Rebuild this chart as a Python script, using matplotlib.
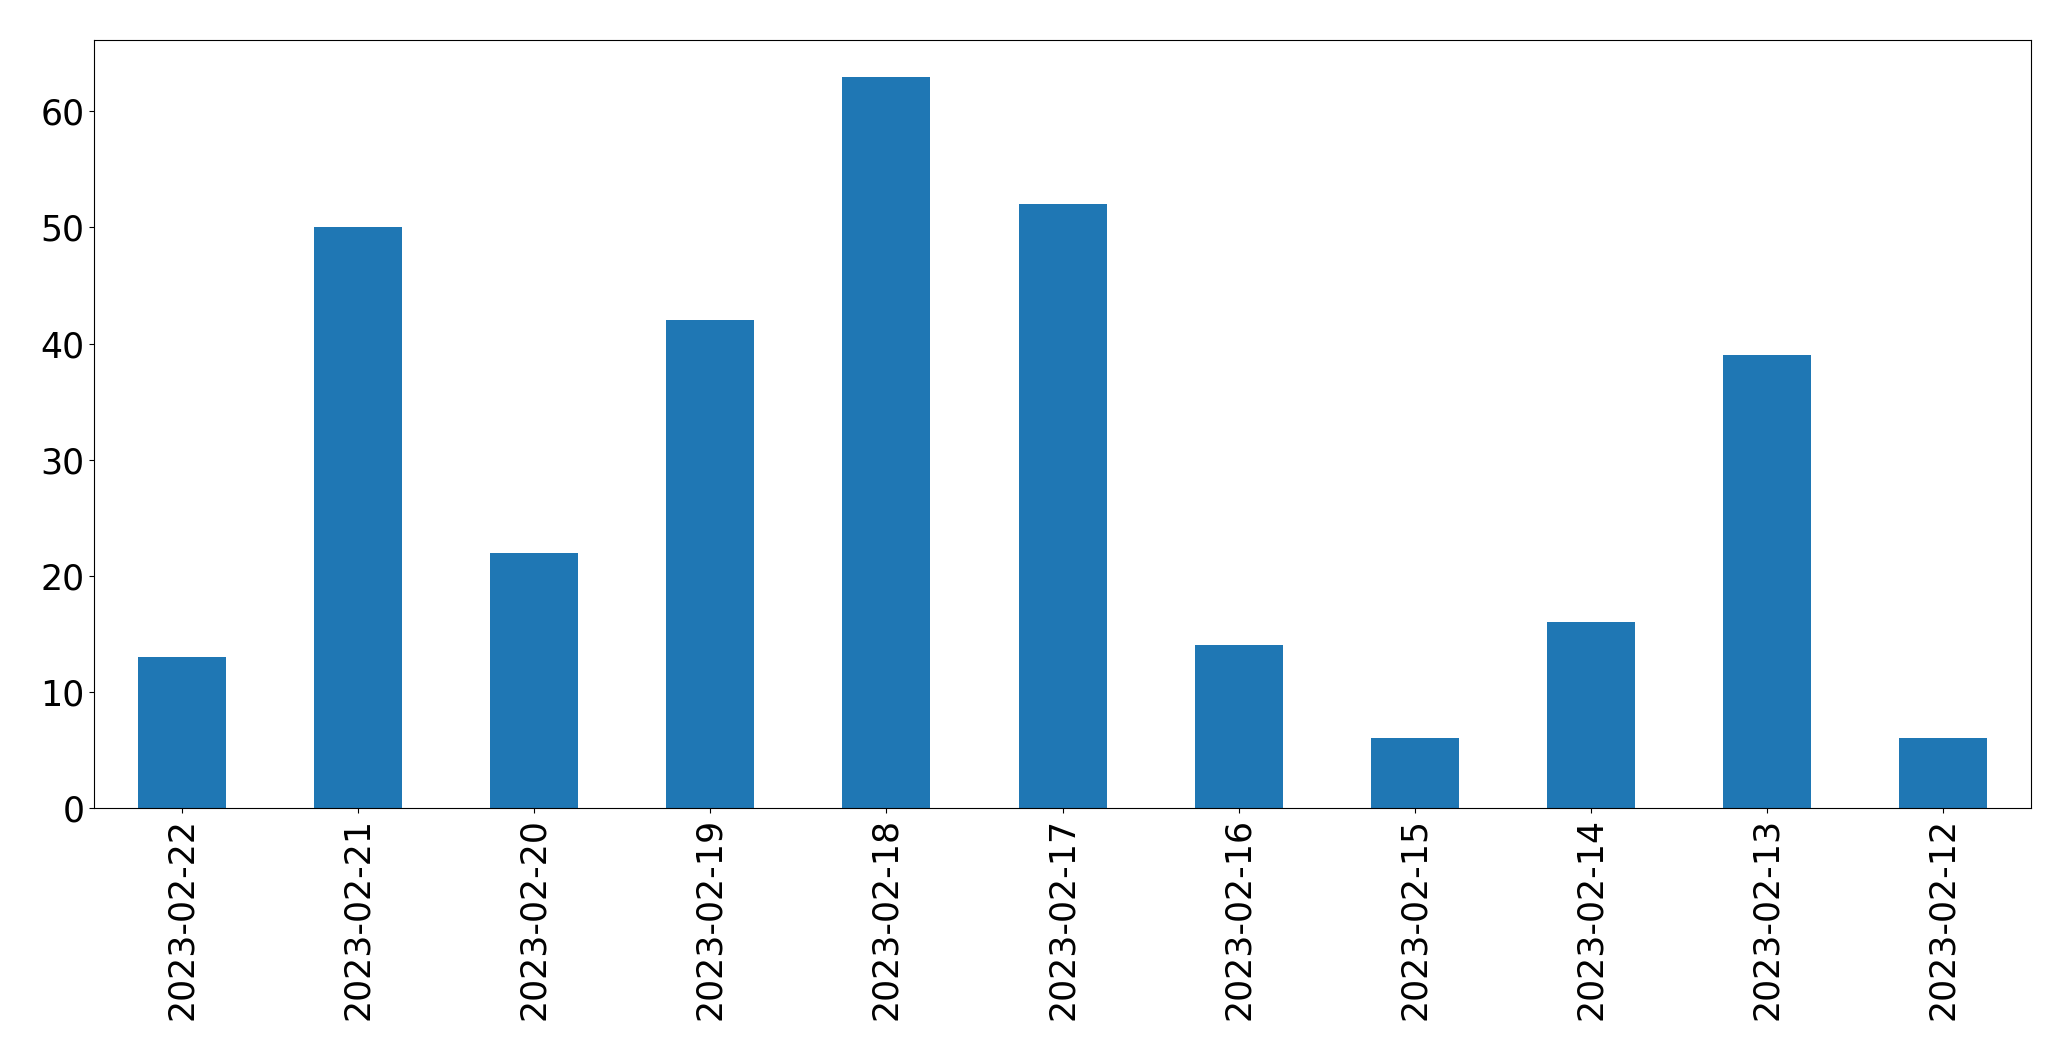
import matplotlib
matplotlib.use("Agg")
import matplotlib.pyplot as plt

dates = ["2023-02-22", "2023-02-21", "2023-02-20", "2023-02-19", "2023-02-18",
         "2023-02-17", "2023-02-16", "2023-02-15", "2023-02-14", "2023-02-13",
         "2023-02-12"]
counts = [13, 50, 22, 42, 63, 52, 14, 6, 16, 39, 6]

fig = plt.figure(figsize=(20.71, 10.61), dpi=100)
ax = fig.add_subplot(111)
fig.subplots_adjust(left=0.0454, right=0.9807, top=0.9623, bottom=0.2385)
x = range(len(dates))
ax.bar(x, counts, width=0.5, color="#1f77b4")
ax.set_xticks(list(x))
ax.set_xticklabels(dates, rotation=90)
ax.set_xlim(-0.5, len(dates) - 0.5)
ax.tick_params(labelsize=25)
fig.savefig("out.png", dpi=100)
